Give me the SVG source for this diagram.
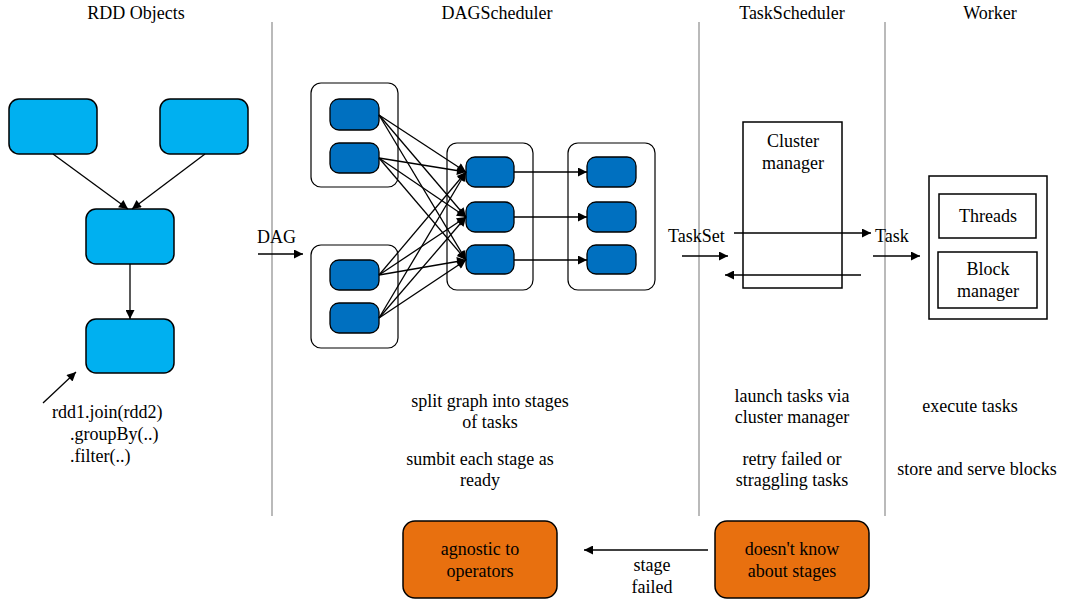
<svg xmlns="http://www.w3.org/2000/svg" width="1067" height="600" viewBox="0 0 1067 600">
  <defs>
    <marker id="arr" viewBox="0 0 10 10" refX="10" refY="5" markerWidth="11" markerHeight="9" markerUnits="userSpaceOnUse" orient="auto">
      <path d="M0,0 L10,5 L0,10 z" fill="#000"/>
    </marker>
    <style>
      text { font-size: 18px; fill: #000; }
      .c { text-anchor: middle; }
      .div { stroke: #8c8c8c; stroke-width: 1.2; }
      .rdd { fill: #00b0f0; stroke: #000; stroke-width: 1.5; }
      .task { fill: #0070c0; stroke: #000; stroke-width: 1.3; }
      .stage { fill: #fff; stroke: #000; stroke-width: 1.2; }
      .box { fill: #fff; stroke: #000; stroke-width: 1.5; }
      .note { fill: #e8700f; stroke: #000; stroke-width: 1.5; }
      .edge { stroke: #000; stroke-width: 1.3; fill: none; marker-end: url(#arr); }
    </style>
  </defs>
  <rect width="1067" height="600" fill="#fff"/>

  <!-- column headers and dividers -->
  <g id="headers">
    <text class="c" x="136" y="19" font-family="Liberation Serif">RDD Objects</text>
    <text class="c" x="497" y="19" font-family="Liberation Serif">DAGScheduler</text>
    <text class="c" x="792" y="19" font-family="Liberation Serif">TaskScheduler</text>
    <text class="c" x="990" y="19" font-family="Liberation Serif">Worker</text>
  </g>
  <g id="dividers">
    <line class="div" x1="272" y1="22" x2="272" y2="516"/>
    <line class="div" x1="699" y1="22" x2="699" y2="516"/>
    <line class="div" x1="885" y1="22" x2="885" y2="516"/>
  </g>

  <!-- RDD objects -->
  <g id="rdd-a"><rect class="rdd" x="9" y="99" width="88" height="55" rx="10"/></g>
  <g id="rdd-b"><rect class="rdd" x="160" y="99" width="88" height="55" rx="10"/></g>
  <g id="rdd-join"><rect class="rdd" x="86" y="209" width="88" height="55" rx="10"/></g>
  <g id="rdd-out"><rect class="rdd" x="86" y="319" width="88" height="54" rx="10"/></g>
  <g id="rdd-code">
    <text x="52" y="418" font-family="Liberation Serif">rdd1.join(rdd2)</text>
    <text x="70" y="440" font-family="Liberation Serif">.groupBy(..)</text>
    <text x="70" y="462" font-family="Liberation Serif">.filter(..)</text>
  </g>

  <!-- DAG stages -->
  <g id="stage-1">
    <rect class="stage" x="311" y="83" width="87" height="104" rx="10"/>
    <rect class="task" x="330" y="99" width="49" height="31" rx="9"/>
    <rect class="task" x="330" y="143" width="49" height="30" rx="9"/>
  </g>
  <g id="stage-2">
    <rect class="stage" x="311" y="245" width="87" height="103" rx="10"/>
    <rect class="task" x="330" y="260" width="49" height="30" rx="9"/>
    <rect class="task" x="330" y="303" width="49" height="30" rx="9"/>
  </g>
  <g id="stage-3">
    <rect class="stage" x="447" y="143" width="86" height="147" rx="10"/>
    <rect class="task" x="466" y="157" width="48" height="30" rx="9"/>
    <rect class="task" x="466" y="202" width="48" height="30" rx="9"/>
    <rect class="task" x="466" y="245" width="48" height="29" rx="9"/>
  </g>
  <g id="stage-4">
    <rect class="stage" x="568" y="143" width="87" height="147" rx="10"/>
    <rect class="task" x="587" y="157" width="49" height="30" rx="9"/>
    <rect class="task" x="587" y="202" width="49" height="30" rx="9"/>
    <rect class="task" x="587" y="245" width="49" height="29" rx="9"/>
  </g>

  <!-- TaskScheduler -->
  <g id="cluster-manager">
    <rect class="box" x="743" y="122" width="99" height="166"/>
    <text class="c" x="793" y="147" font-family="Liberation Serif">Cluster</text>
    <text class="c" x="793" y="169" font-family="Liberation Serif">manager</text>
  </g>

  <!-- Worker -->
  <g id="worker">
    <rect class="box" x="929" y="176" width="118" height="143"/>
    <rect class="box" x="939" y="194" width="97" height="44"/>
    <text class="c" x="988" y="222" font-family="Liberation Serif">Threads</text>
    <rect class="box" x="938" y="252" width="99" height="56"/>
    <text class="c" x="988" y="275" font-family="Liberation Serif">Block</text>
    <text class="c" x="988" y="297" font-family="Liberation Serif">manager</text>
  </g>

  <!-- descriptions -->
  <g id="dag-notes">
    <text class="c" x="490" y="407" font-family="Liberation Serif">split graph into stages</text>
    <text class="c" x="490" y="428" font-family="Liberation Serif">of tasks</text>
    <text class="c" x="480" y="465" font-family="Liberation Serif">sumbit each stage as</text>
    <text class="c" x="480" y="486" font-family="Liberation Serif">ready</text>
  </g>
  <g id="task-notes">
    <text class="c" x="792" y="402" font-family="Liberation Serif">launch tasks via</text>
    <text class="c" x="792" y="423" font-family="Liberation Serif">cluster manager</text>
    <text class="c" x="792" y="465" font-family="Liberation Serif">retry failed or</text>
    <text class="c" x="792" y="486" font-family="Liberation Serif">straggling tasks</text>
  </g>
  <g id="worker-notes">
    <text class="c" x="970" y="412" font-family="Liberation Serif">execute tasks</text>
    <text class="c" x="977" y="475" font-family="Liberation Serif">store and serve blocks</text>
  </g>

  <!-- bottom notes -->
  <g id="agnostic">
    <rect class="note" x="403" y="521" width="154" height="77" rx="12"/>
    <text class="c" x="480" y="555" font-family="Liberation Serif">agnostic to</text>
    <text class="c" x="480" y="577" font-family="Liberation Serif">operators</text>
  </g>
  <g id="stage-unaware">
    <rect class="note" x="715" y="521" width="154" height="77" rx="12"/>
    <text class="c" x="792" y="555" font-family="Liberation Serif">doesn't know</text>
    <text class="c" x="792" y="577" font-family="Liberation Serif">about stages</text>
  </g>

  <!-- connectors -->
  <g id="connectors">
    <line class="edge" x1="53" y1="154" x2="128" y2="209"/>
    <line class="edge" x1="205" y1="154" x2="132" y2="209"/>
    <line class="edge" x1="130" y1="264" x2="130" y2="319"/>
    <line class="edge" x1="43" y1="403" x2="76" y2="372"/>

    <line class="edge" x1="258" y1="254" x2="303" y2="254"/>
    <text x="257" y="243" font-family="Liberation Serif">DAG</text>

    <line class="edge" x1="379" y1="115" x2="466" y2="172"/>
    <line class="edge" x1="379" y1="115" x2="466" y2="217"/>
    <line class="edge" x1="379" y1="115" x2="466" y2="260"/>
    <line class="edge" x1="379" y1="158" x2="466" y2="172"/>
    <line class="edge" x1="379" y1="158" x2="466" y2="217"/>
    <line class="edge" x1="379" y1="158" x2="466" y2="260"/>
    <line class="edge" x1="379" y1="275" x2="466" y2="172"/>
    <line class="edge" x1="379" y1="275" x2="466" y2="217"/>
    <line class="edge" x1="379" y1="275" x2="466" y2="260"/>
    <line class="edge" x1="379" y1="318" x2="466" y2="172"/>
    <line class="edge" x1="379" y1="318" x2="466" y2="217"/>
    <line class="edge" x1="379" y1="318" x2="466" y2="260"/>

    <line class="edge" x1="514" y1="172" x2="587" y2="172"/>
    <line class="edge" x1="514" y1="217" x2="587" y2="217"/>
    <line class="edge" x1="514" y1="260" x2="587" y2="260"/>

    <text x="668" y="242" font-family="Liberation Serif">TaskSet</text>
    <line class="edge" x1="682" y1="256" x2="728" y2="256"/>
    <line class="edge" x1="734" y1="233" x2="871" y2="233"/>
    <line class="edge" x1="861" y1="275" x2="725" y2="275"/>
    <text x="875" y="242" font-family="Liberation Serif">Task</text>
    <line class="edge" x1="873" y1="256" x2="920" y2="256"/>

    <line class="edge" x1="708" y1="550" x2="584" y2="550"/>
    <text class="c" x="652" y="571" font-family="Liberation Serif">stage</text>
    <text class="c" x="652" y="593" font-family="Liberation Serif">failed</text>
  </g>
</svg>
